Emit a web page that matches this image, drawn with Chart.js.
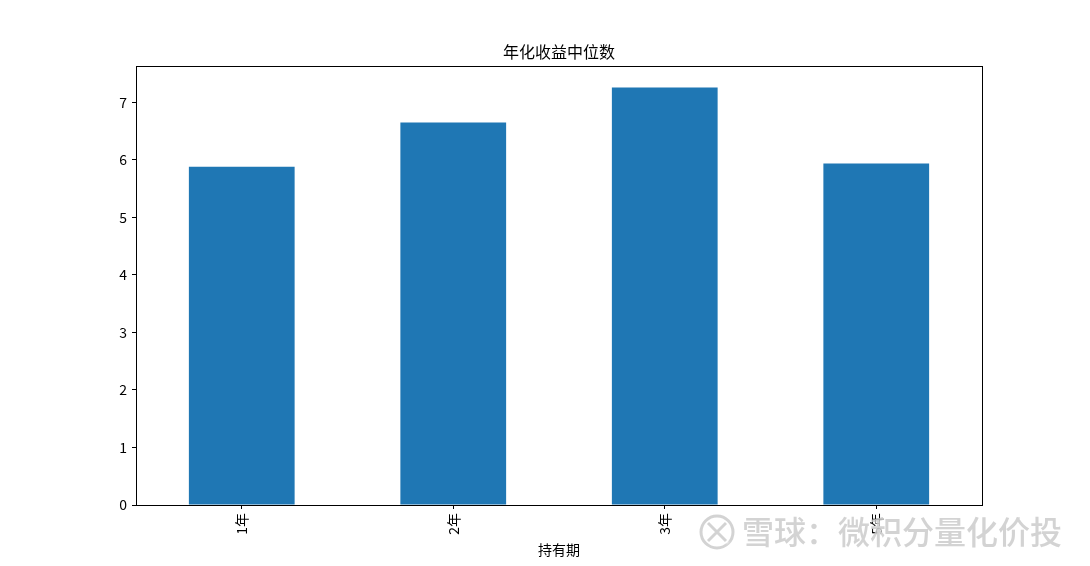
<!DOCTYPE html>
<html>
<head>
<meta charset="utf-8">
<script src="https://cdn.jsdelivr.net/npm/chart.js@4/dist/chart.umd.min.js"></script>
<style>
  html, body { margin: 0; padding: 0; background: #fff; }
  #wrap { width: 1090px; height: 566px; position: relative; }
</style>
</head>
<body>
<div id="wrap"><canvas id="c" width="1090" height="566"></canvas></div>
<script>
// data
const categories = ['1年', '2年', '3年', '5年'];
const medianReturn = [5.88, 6.65, 7.26, 5.94];
const yTicks = [0, 1, 2, 3, 4, 5, 6, 7];

const FONT = '"Noto Sans CJK SC", "Noto Sans", sans-serif';

// frame on all four sides like matplotlib + watermark
const frameAndMark = {
  id: 'frameAndMark',
  afterDraw(chart) {
    const { ctx, chartArea: a } = chart;
    ctx.save();
    ctx.strokeStyle = '#000';
    ctx.lineWidth = 1;
    ctx.strokeRect(Math.round(a.left) + 0.5, Math.round(a.top) + 0.5,
                   Math.round(a.right - a.left), Math.round(a.bottom - a.top));

    // watermark
    ctx.shadowColor = 'rgba(255,255,255,0.9)';
    ctx.shadowOffsetX = 2;
    ctx.shadowOffsetY = 2;
    ctx.shadowBlur = 2;
    ctx.fillStyle = 'rgba(200,200,200,0.8)';
    ctx.strokeStyle = 'rgba(200,200,200,0.8)';
    ctx.lineWidth = 3;
    ctx.beginPath();
    ctx.arc(717, 532, 16, 0, Math.PI * 2);
    ctx.stroke();
    ctx.beginPath();
    ctx.moveTo(708, 523); ctx.lineTo(726, 541);
    ctx.moveTo(726, 523); ctx.lineTo(708, 541);
    ctx.stroke();
    ctx.font = '500 32px ' + FONT;
    ctx.textBaseline = 'middle';
    ctx.fillText('雪球：微积分量化价投', 742, 532);
    ctx.restore();
  }
};

new Chart(document.getElementById('c'), {
  type: 'bar',
  data: {
    labels: categories,
    datasets: [{
      data: medianReturn,
      backgroundColor: '#1f77b4',
      borderWidth: 0,
      categoryPercentage: 1,
      barPercentage: 0.5
    }]
  },
  options: {
    responsive: false,
    animation: false,
    devicePixelRatio: 1,
    layout: { padding: { left: 0, right: 108, top: 0, bottom: 0 } },
    plugins: {
      legend: { display: false },
      tooltip: { enabled: false },
      title: {
        display: true,
        fullSize: false,
        text: '年化收益中位数',
        color: '#000',
        font: { family: FONT, size: 16, weight: 'normal' },
        padding: { top: 42, bottom: 5 }
      }
    },
    scales: {
      x: {
        grid: { drawOnChartArea: false, drawTicks: true, tickLength: 4, color: '#000', offset: false },
        border: { display: true, color: '#000' },
        ticks: {
          color: '#000', font: { family: FONT, size: 14 },
          minRotation: 90, maxRotation: 90, padding: 4, autoSkip: false
        },
        title: {
          display: true, text: '持有期', color: '#000',
          font: { family: FONT, size: 14 }, padding: { top: 0, bottom: 8 }
        },
        afterFit(s) { s.height = 61; }
      },
      y: {
        min: 0,
        max: 7.63,
        grid: { drawOnChartArea: false, drawTicks: true, tickLength: 4, color: '#000' },
        border: { display: true, color: '#000' },
        ticks: { color: '#000', font: { family: FONT, size: 14 }, padding: 5 },
        afterBuildTicks(s) { s.ticks = yTicks.map(v => ({ value: v })); },
        afterFit(s) { s.width = 136; }
      }
    }
  },
  plugins: [frameAndMark]
});
</script>
</body>
</html>
